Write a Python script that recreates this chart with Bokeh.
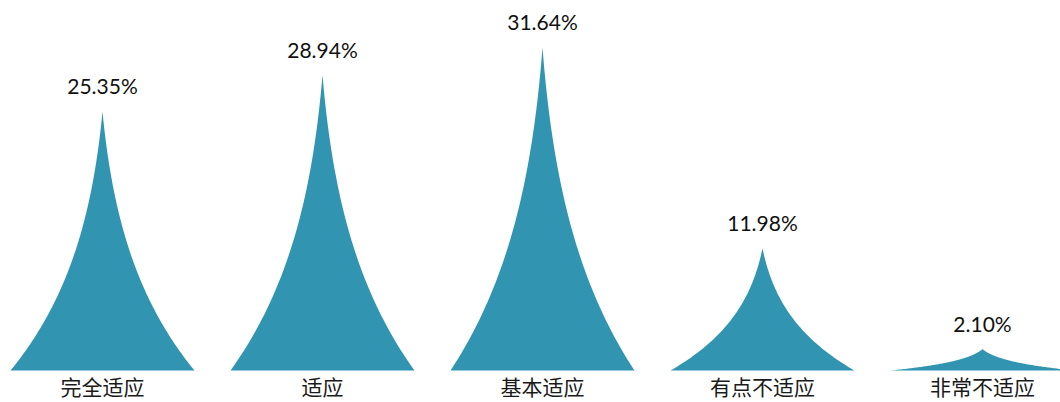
import numpy as np
from bokeh.plotting import figure
from bokeh.models import Range1d, ColumnDataSource
from bokeh.core.properties import value
from bokeh.embed import file_html
from bokeh.resources import INLINE

categories = ["完全适应", "适应", "基本适应", "有点不适应", "非常不适应"]
percentages = [25.35, 28.94, 31.64, 11.98, 2.10]
value_labels = ["25.35%", "28.94%", "31.64%", "11.98%", "2.10%"]

BAR_HALF = 0.418   # half bar width in category units
DECAY = 1.3        # curvature of the concave spike sides
s = np.linspace(0, 1, 120)


def spike(xc, h):
    w = (1 - s) * np.exp(-DECAY * s)      # half-width profile, base -> tip
    xr = xc + w * BAR_HALF
    xl = xc - w * BAR_HALF
    y = s * h
    xs = np.concatenate([xl, xr[::-1]])
    ys = np.concatenate([y, y[::-1]])
    return xs.tolist(), ys.tolist()


idx = list(range(len(categories)))
xs_all, ys_all = [], []
for i, v in zip(idx, percentages):
    xs, ys = spike(i, v)
    xs_all.append(xs)
    ys_all.append(ys)

p = figure(width=1060, height=402,
           x_range=Range1d(-0.46364, 4.35455), y_range=Range1d(-3.134, 36.24),
           output_backend="svg", toolbar_location=None,
           x_axis_location=None, y_axis_location=None,
           min_border_left=0, min_border_right=0, min_border_top=0, min_border_bottom=0)
p.outline_line_color = None
p.grid.visible = False
p.background_fill_color = "white"
p.border_fill_color = "white"

p.patches(xs=xs_all, ys=ys_all, fill_color="#3195b2", line_color=None)

src = ColumnDataSource(dict(x=idx, y=percentages, label=value_labels,
                            zero=[0] * len(idx), cat=categories))
p.text(x="x", y="y", text="label", source=src, text_align="center",
       text_baseline="alphabetic", y_offset=-26,
       text_font=value("Lato"), text_font_size="21px", text_color="#111111")

p.text(x="x", y="zero", text="cat", source=src, text_align="center",
       text_baseline="middle", y_offset=15,
       text_font=value("Noto Sans CJK SC"), text_font_size="21px", text_color="#1a1a1a")

open("out.html", "w").write(file_html(p, INLINE))
